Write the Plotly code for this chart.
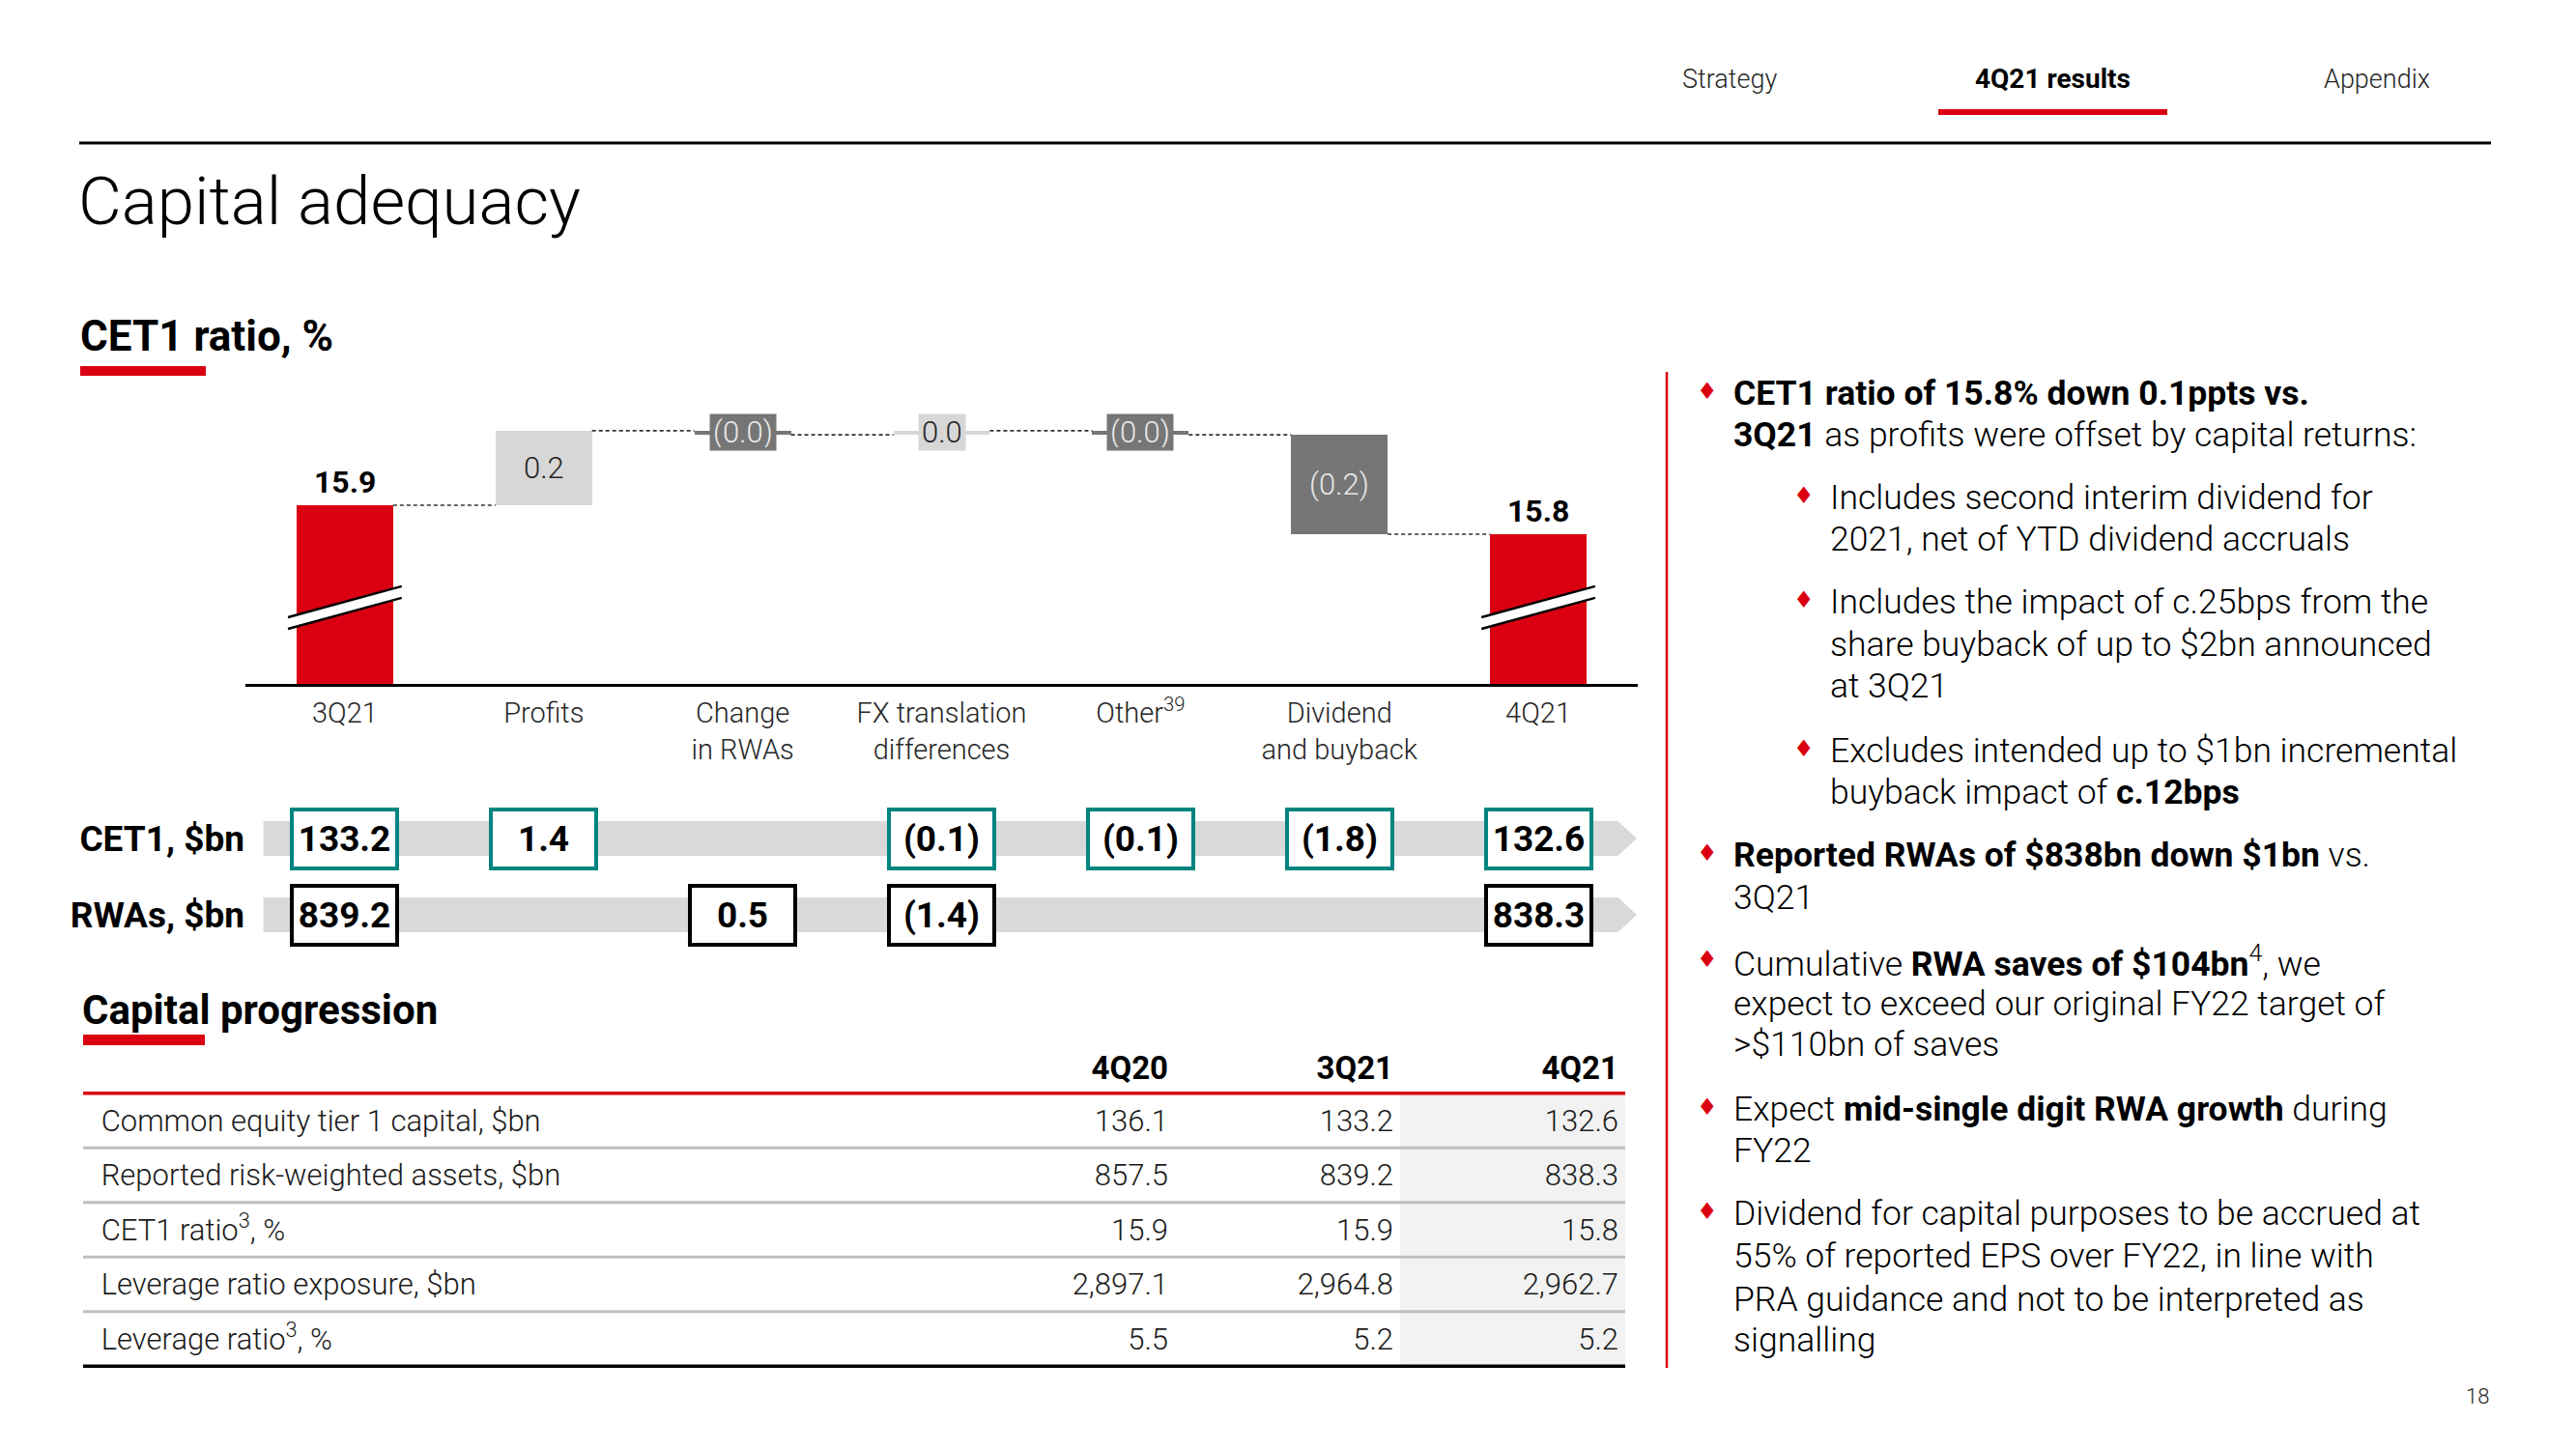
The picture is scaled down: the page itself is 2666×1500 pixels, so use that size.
import plotly.graph_objects as go

W, H = 2666, 1500


def px(x):
    return x / W


def py(y):
    return 1 - y / H


RED = "#db0011"
TEAL = "#00847f"
DARK = "#767676"
LIGHT = "#d7d7d7"
BAND = "#d9d9d9"
TXT = "#1a1a1a"
FONT = "Roboto"

# ---------------- data ----------------
categories = ["3Q21", "Profits", "Change<br>in RWAs", "FX translation<br>differences",
              "Other<sup>39</sup>", "Dividend<br>and buyback", "4Q21"]
cet1_start = 15.9
cet1_moves = [0.18, -0.01, 0.01, -0.01, -0.24]
cet1_end = 15.83

cet1_bn = [133.2, 1.4, None, -0.1, -0.1, -1.8, 132.6]
rwa_bn = [839.2, None, 0.5, -1.4, None, None, 838.3]
row_labels = ["<b>CET1, $bn</b>", "<b>RWAs, $bn</b>"]

table_cols = ["4Q20", "3Q21", "4Q21"]
table_rows = ["Common equity tier 1 capital, $bn", "Reported risk-weighted assets, $bn",
              "CET1 ratio<sup>3</sup>, %", "Leverage ratio exposure, $bn", "Leverage ratio<sup>3</sup>, %"]
t_4q20 = [136.1, 857.5, 15.9, 2897.1, 5.5]
t_3q21 = [133.2, 839.2, 15.9, 2964.8, 5.2]
t_4q21 = [132.6, 838.3, 15.8, 2962.7, 5.2]

AXIS_FLOOR = 15.468
BAR_W = 0.485


def fmt_delta(v):
    s = f"{abs(v):.1f}"
    return f"({s})" if v < 0 else s


# ---------------- waterfall geometry ----------------
n = len(categories)
bases, heights, colors, labels = [], [], [], []
bases.append(AXIS_FLOOR); heights.append(cet1_start - AXIS_FLOOR); colors.append(RED)
labels.append(f"{cet1_start:.1f}")
level = cet1_start
levels_after = [level]
for d in cet1_moves:
    if d >= 0:
        bases.append(level); heights.append(d); colors.append(LIGHT)
    else:
        bases.append(level + d); heights.append(-d); colors.append(DARK)
    labels.append(fmt_delta(d))
    level += d
    levels_after.append(level)
bases.append(AXIS_FLOOR); heights.append(cet1_end - AXIS_FLOOR); colors.append(RED)
labels.append(f"{cet1_end:.1f}")

fig = go.Figure()

fig.add_trace(go.Bar(x=list(range(n)), y=heights, base=bases, width=BAR_W,
                     marker=dict(color=colors, line=dict(width=0)),
                     hoverinfo="skip", showlegend=False, xaxis="x", yaxis="y"))

# connectors
cx, cy = [], []
for i in range(n - 1):
    cx += [i + BAR_W / 2, i + 1 - BAR_W / 2, None]
    cy += [levels_after[i], levels_after[i], None]
fig.add_trace(go.Scatter(x=cx, y=cy, mode="lines",
                         line=dict(color="#333333", width=1.6, dash="4px,3px"),
                         hoverinfo="skip", showlegend=False, xaxis="x", yaxis="y"))

annotations = []
shapes = []

# bar labels
for i in range(n):
    top = bases[i] + heights[i]
    mid = bases[i] + heights[i] / 2
    if colors[i] == RED:
        annotations.append(dict(x=i, y=top, xref="x", yref="y", text=f"<b>{labels[i]}</b>",
                                showarrow=False, yanchor="bottom", yshift=3,
                                font=dict(family=FONT, size=32, color="#000000")))
    else:
        tcol = "#262626" if colors[i] == LIGHT else "#e8e8e8"
        if heights[i] < 0.05:
            annotations.append(dict(x=i, y=mid, xref="x", yref="y", text=labels[i],
                                    showarrow=False, bgcolor=colors[i], borderpad=3, height=31,
                                    font=dict(family=FONT, size=31, color=tcol, weight=300)))
        else:
            annotations.append(dict(x=i, y=mid, xref="x", yref="y", text=labels[i],
                                    showarrow=False,
                                    font=dict(family=FONT, size=31, color=tcol, weight=300)))

# axis break marks on the red bars
for i in range(n):
    if colors[i] != RED:
        continue
    x0, x1 = i - 0.286, i + 0.286
    up0, up1, lo0, lo1 = 15.629, 15.704, 15.601, 15.676
    shapes.append(dict(type="path", xref="x", yref="y",
                       path=f"M {x0},{up0} L {x1},{up1} L {x1},{lo1} L {x0},{lo0} Z",
                       fillcolor="white", line=dict(width=0)))
    shapes.append(dict(type="line", xref="x", yref="y", x0=x0, x1=x1, y0=up0, y1=up1,
                       line=dict(color="#000000", width=2.5)))
    shapes.append(dict(type="line", xref="x", yref="y", x0=x0, x1=x1, y0=lo0, y1=lo1,
                       line=dict(color="#000000", width=2.5)))

# ---------------- CET1 / RWAs rows ----------------
for r in range(2):
    shapes.append(dict(type="path", xref="x", yref="y2", layer="below",
                       path=f"M -0.41,{r - 0.228} L 6.40,{r - 0.228} L 6.495,{r} L 6.40,{r + 0.228} L -0.41,{r + 0.228} Z",
                       fillcolor=BAND, line=dict(width=0)))

for r, (vals, bcol) in enumerate([(cet1_bn, TEAL), (rwa_bn, "#000000")]):
    for i, v in enumerate(vals):
        if v is None:
            continue
        annotations.append(dict(x=i, y=r, xref="x", yref="y2", text=f"<b>{fmt_delta(v)}</b>",
                                showarrow=False, bgcolor="white", bordercolor=bcol, borderwidth=4,
                                borderpad=1, width=103, height=55,
                                font=dict(family=FONT, size=37, color="#000000")))

# ---------------- table ----------------
col_x = [1, 2, 3]
TY = 0.05  # optical centring of text in rows
fig.add_trace(go.Scatter(x=[-3.74] * len(table_rows), y=[i + TY for i in range(len(table_rows))], text=table_rows,
                         mode="text", textposition="middle right",
                         textfont=dict(family=FONT, size=31, color=TXT, weight=300),
                         hoverinfo="skip", showlegend=False, xaxis="x3", yaxis="y3"))
fig.add_trace(go.Scatter(x=col_x, y=[-0.95 + TY] * 3, text=[f"<b>{c}</b>" for c in table_cols],
                         mode="text", textposition="middle left",
                         textfont=dict(family=FONT, size=33, color="#000000"),
                         hoverinfo="skip", showlegend=False, xaxis="x3", yaxis="y3"))
for cx_, col in zip(col_x, [t_4q20, t_3q21, t_4q21]):
    fig.add_trace(go.Scatter(x=[cx_] * len(col), y=[i + TY for i in range(len(col))],
                             text=[f"{v:,.1f}" for v in col],
                             mode="text", textposition="middle left",
                             textfont=dict(family=FONT, size=31, color=TXT, weight=300),
                             hoverinfo="skip", showlegend=False, xaxis="x3", yaxis="y3"))

nrows = len(table_rows)
shapes.append(dict(type="rect", xref="x3", yref="y3", x0=2.03, x1=3.03, y0=-0.5, y1=nrows - 0.5,
                   fillcolor="#f2f2f2", line=dict(width=0), layer="below"))
shapes.append(dict(type="line", xref="x3 domain", yref="y3", x0=0, x1=1, y0=-0.5, y1=-0.5,
                   line=dict(color=RED, width=3.5)))
for i in range(nrows - 1):
    shapes.append(dict(type="line", xref="x3 domain", yref="y3", x0=0, x1=1, y0=i + 0.5, y1=i + 0.5,
                       line=dict(color="#bfbfbf", width=3)))
shapes.append(dict(type="line", xref="x3 domain", yref="y3", x0=0, x1=1, y0=nrows - 0.5, y1=nrows - 0.5,
                   line=dict(color="#000000", width=3.5)))

# ---------------- page furniture ----------------
def txt(x, y, s, size, color="#000000", weight=300, xanchor="left"):
    annotations.append(dict(x=px(x), y=py(y), xref="paper", yref="paper", text=s, showarrow=False,
                            xanchor=xanchor, yanchor="middle",
                            font=dict(family=FONT, size=size, color=color, weight=weight)))


txt(1790, 82, "Strategy", 27, "#262626", 300, "center")
txt(2124, 82, "<b>4Q21 results</b>", 28, "#000000", 400, "center")
txt(2460, 82, "Appendix", 27, "#262626", 300, "center")
shapes.append(dict(type="rect", xref="paper", yref="paper", x0=px(2006), x1=px(2243), y0=py(119), y1=py(113),
                   fillcolor=RED, line=dict(width=0)))
shapes.append(dict(type="line", xref="paper", yref="paper", x0=px(82), x1=px(2578), y0=py(148), y1=py(148),
                   line=dict(color="#000000", width=3)))

txt(79, 208, "Capital adequacy", 69, "#000000", 300)
txt(81, 348, "<b>CET1 ratio, %</b>", 44, "#000000", 400)
shapes.append(dict(type="rect", xref="paper", yref="paper", x0=px(83), x1=px(213), y0=py(389), y1=py(379),
                   fillcolor=RED, line=dict(width=0)))
txt(83, 1045, "<b>Capital progression</b>", 42, "#000000", 400)
shapes.append(dict(type="rect", xref="paper", yref="paper", x0=px(86), x1=px(212), y0=py(1082), y1=py(1071),
                   fillcolor=RED, line=dict(width=0)))

# right commentary
shapes.append(dict(type="line", xref="paper", yref="paper", x0=px(1725), x1=px(1725), y0=py(385), y1=py(1416),
                   line=dict(color=RED, width=2.5)))

right_lines = [
    (0, 407, "<b>CET1 ratio of 15.8% down 0.1ppts vs.</b>", True),
    (0, 450, "<b>3Q21</b> as profits were offset by capital returns:", False),
    (1, 515, "Includes second interim dividend for", True),
    (1, 558, "2021, net of YTD dividend accruals", False),
    (1, 623, "Includes the impact of c.25bps from the", True),
    (1, 667, "share buyback of up to $2bn announced", False),
    (1, 710, "at 3Q21", False),
    (1, 777, "Excludes intended up to $1bn incremental", True),
    (1, 820, "buyback impact of <b>c.12bps</b>", False),
    (0, 885, "<b>Reported RWAs of $838bn down $1bn</b> vs.", True),
    (0, 929, "3Q21", False),
    (0, 995, "Cumulative <b>RWA saves of $104bn</b><sup>4</sup>, we", True),
    (0, 1039, "expect to exceed our original FY22 target of", False),
    (0, 1081, ">$110bn of saves", False),
    (0, 1148, "Expect <b>mid-single digit RWA growth</b> during", True),
    (0, 1191, "FY22", False),
    (0, 1256, "Dividend for capital purposes to be accrued at", True),
    (0, 1300, "55% of reported EPS over FY22, in line with", False),
    (0, 1345, "PRA guidance and not to be interpreted as", False),
    (0, 1387, "signalling", False),
]
for lvl, y, s, bullet in right_lines:
    x_text = 1792 if lvl == 0 else 1892
    txt(x_text, y, s, 35.5, "#000000", 300)
    if bullet:
        annotations.append(dict(x=px(x_text - 25), y=py(y - 2), xref="paper", yref="paper", text="♦",
                                showarrow=False, xanchor="center", yanchor="middle",
                                font=dict(family="DejaVu Sans", size=24, color=RED)))

txt(2564, 1445, "18", 22, "#262626", 300, "center")

# ---------------- layout ----------------
fig.update_layout(
    width=W, height=H, margin=dict(l=0, r=0, t=0, b=0),
    paper_bgcolor="white", plot_bgcolor="rgba(0,0,0,0)",
    showlegend=False, bargap=0,
    xaxis=dict(domain=[px(254), px(1695)], range=[-0.5, 6.5], tickvals=list(range(n)), ticktext=categories,
               showline=True, linecolor="#000000", linewidth=3, ticks="", showgrid=False, zeroline=False,
               tickfont=dict(family=FONT, size=29, color="#262626", weight=300), anchor="y",
               ticklabelstandoff=2, fixedrange=True),
    yaxis=dict(domain=[py(708), py(400)], range=[AXIS_FLOOR, 16.187], visible=False, fixedrange=True),
    yaxis2=dict(domain=[py(994.4), py(820.6)], range=[1.6, -0.6], anchor="x", tickvals=[0, 1],
                ticktext=row_labels, showgrid=False, zeroline=False, showline=False, ticks="",
                tickfont=dict(family=FONT, size=37, color="#000000"), ticklabelstandoff=0, fixedrange=True),
    xaxis3=dict(domain=[px(86), px(1682)], range=[-3.82, 3.03], anchor="y3", visible=False, fixedrange=True),
    yaxis3=dict(domain=[py(1430), py(1090)], range=[4.779, -1.239], anchor="x3", visible=False, fixedrange=True),
    annotations=annotations,
    shapes=shapes,
)

fig.write_html("out.html", config={"displayModeBar": False})
